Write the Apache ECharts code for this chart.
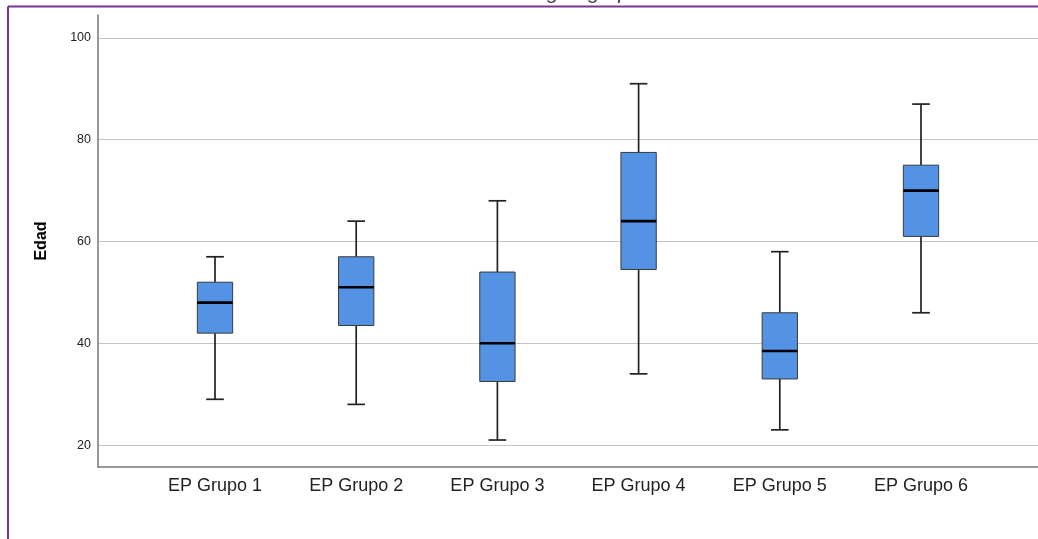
<!DOCTYPE html>
<html>
<head>
<meta charset="utf-8">
<script src="https://cdn.jsdelivr.net/npm/echarts@6/dist/echarts.min.js"></script>
<style>
  html, body { margin: 0; padding: 0; background: #ffffff; }
  #chart { width: 1038px; height: 539px; }
</style>
</head>
<body>
<div id="chart"></div>
<script>
// Age (Edad) distribution per group: whisker ends, quartiles and median
const categories = ['EP Grupo 1', 'EP Grupo 2', 'EP Grupo 3', 'EP Grupo 4', 'EP Grupo 5', 'EP Grupo 6'];
const whiskerLow  = [29, 28, 21, 34, 23, 46];
const quartile1   = [42, 43.5, 32.5, 54.5, 33, 61];
const medians     = [48, 51, 40, 64, 38.5, 70];
const quartile3   = [52, 57, 54, 77.5, 46, 75];
const whiskerHigh = [57, 64, 68, 91, 58, 87];
const yLabelTicks = [20, 40, 60, 80, 100];

const Y_MIN = 15.7;
const Y_MAX = 104.5;

const boxData = categories.map((c, i) => [i, whiskerLow[i], quartile1[i], medians[i], quartile3[i], whiskerHigh[i]]);

const FONT = '"Liberation Sans", Arial, sans-serif';
const PURPLE = '#7b3590';

function renderBox(params, api) {
  const idx = api.value(0);
  const band = api.size([1, 0])[0];
  const half = band * 0.125;
  const cap = band * 0.0625;
  const pLow = api.coord([idx, api.value(1)]);
  const pQ1 = api.coord([idx, api.value(2)]);
  const pMed = api.coord([idx, api.value(3)]);
  const pQ3 = api.coord([idx, api.value(4)]);
  const pHigh = api.coord([idx, api.value(5)]);
  const cx = pMed[0];
  const whisker = { stroke: '#222222', lineWidth: 1.7 };
  return {
    type: 'group',
    children: [
      { type: 'line', shape: { x1: cx, y1: pQ3[1], x2: cx, y2: pHigh[1] }, style: whisker },
      { type: 'line', shape: { x1: cx, y1: pQ1[1], x2: cx, y2: pLow[1] }, style: whisker },
      { type: 'line', shape: { x1: cx - cap, y1: pHigh[1], x2: cx + cap, y2: pHigh[1] }, style: whisker },
      { type: 'line', shape: { x1: cx - cap, y1: pLow[1], x2: cx + cap, y2: pLow[1] }, style: whisker },
      {
        type: 'rect',
        shape: { x: cx - half, y: pQ3[1], width: half * 2, height: pQ1[1] - pQ3[1] },
        style: { fill: '#5493e3', stroke: '#3a3a3a', lineWidth: 1 }
      },
      { type: 'line', shape: { x1: cx - half, y1: pMed[1], x2: cx + half, y2: pMed[1] }, style: { stroke: '#000000', lineWidth: 2.6 } }
    ]
  };
}

const chart = echarts.init(document.getElementById('chart'), null, { renderer: 'canvas' });

chart.setOption({
  backgroundColor: '#ffffff',
  animation: false,
  grid: [
    { left: 98, right: 0, top: 15, bottom: 72, containLabel: false },
    { left: 144.4, right: 46.4, top: 15, bottom: 72, containLabel: false }
  ],
  xAxis: [
    {
      gridIndex: 0, type: 'value', min: 0, max: 1,
      axisLine: { show: true, onZero: false, lineStyle: { color: '#777777', width: 1.5 } },
      axisTick: { show: false }, axisLabel: { show: false }, splitLine: { show: false }
    },
    {
      gridIndex: 1, type: 'category', data: categories, boundaryGap: true,
      axisLine: { show: false }, axisTick: { show: false }, splitLine: { show: false },
      axisLabel: { color: '#222222', fontFamily: FONT, fontSize: 18, margin: 10 }
    }
  ],
  yAxis: [
    {
      gridIndex: 0, type: 'value', min: Y_MIN, max: Y_MAX, splitNumber: 5,
      axisLine: { show: true, lineStyle: { color: '#777777', width: 1.5 } },
      axisTick: { show: false },
      axisLabel: {
        color: '#222222', fontFamily: FONT, fontSize: 12.5, margin: 7,
        showMinLabel: false, showMaxLabel: false,
        formatter: v => (yLabelTicks.indexOf(v) >= 0 ? String(v) : '')
      },
      splitLine: { show: true, showMinLine: false, showMaxLine: false, lineStyle: { color: '#c4c4c4', width: 1 } },
      name: 'Edad', nameLocation: 'middle', nameGap: 48, nameRotate: 90,
      nameTextStyle: { color: '#000000', fontFamily: FONT, fontSize: 16, fontWeight: 'bold' }
    },
    {
      gridIndex: 1, type: 'value', min: Y_MIN, max: Y_MAX,
      show: false, splitLine: { show: false }
    }
  ],
  graphic: [
    {
      type: 'text', left: 470, top: -17, silent: true,
      style: { text: 'Edad según grupo', font: 'italic 21px ' + FONT, fill: '#4a3a5a' }
    },
    { type: 'line', silent: true, shape: { x1: 8, y1: 6.5, x2: 1038, y2: 6.5 }, style: { stroke: PURPLE, lineWidth: 2 } },
    { type: 'line', silent: true, shape: { x1: 8, y1: 6.5, x2: 8, y2: 539 }, style: { stroke: PURPLE, lineWidth: 2 } }
  ],
  series: [
    {
      type: 'custom',
      xAxisIndex: 1, yAxisIndex: 1,
      renderItem: renderBox,
      encode: { x: 0, y: [1, 2, 3, 4, 5] },
      data: boxData,
      z: 5
    }
  ]
});
</script>
</body>
</html>
